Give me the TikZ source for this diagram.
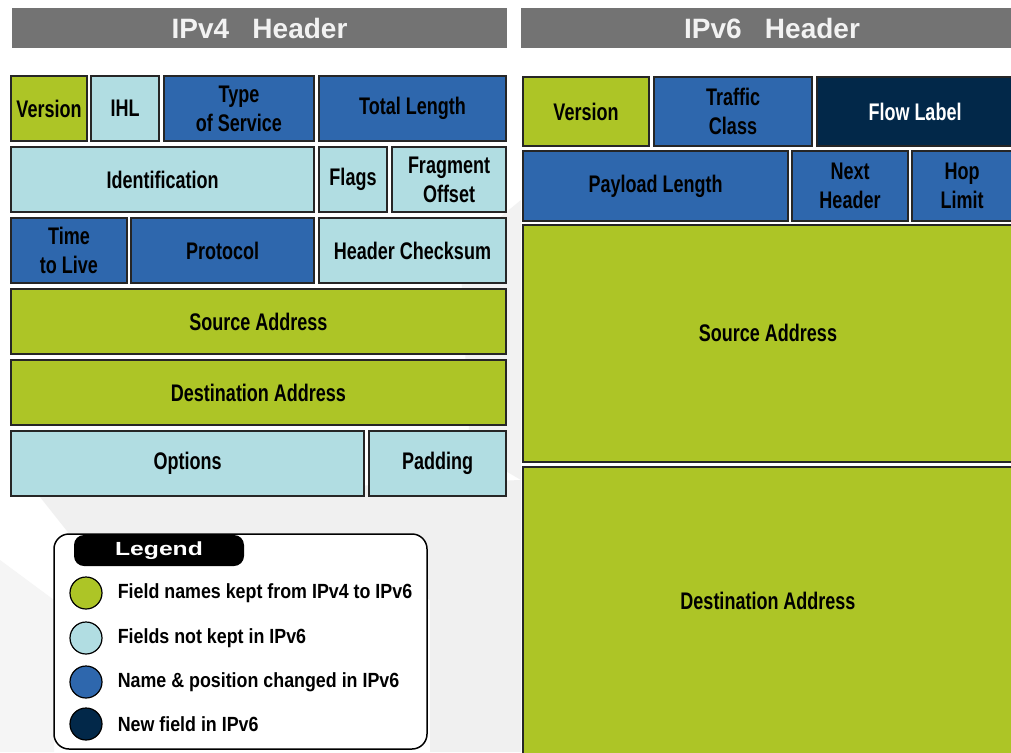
\documentclass[tikz,border=0pt]{standalone}
\usepackage{fontspec}
\setmainfont{Liberation Sans}
\newfontfamily\narrowfont{Liberation Sans}[FakeStretch=0.75]
\newfontfamily\entryfont{Liberation Sans}[FakeStretch=0.87]
\newfontfamily\widefont{Liberation Sans}[FakeStretch=1.3]
\usetikzlibrary{positioning}
\definecolor{keptgreen}{HTML}{ADC526}
\definecolor{droppedblue}{HTML}{B1DDE2}
\definecolor{movedblue}{HTML}{2E67AD}
\definecolor{newnavy}{HTML}{022849}
\definecolor{bargray}{HTML}{737373}
\begin{document}
\begin{tikzpicture}[x=1pt, y=-1pt,
    field/.style={draw=black!85, line width=1.3pt, inner sep=0pt, outer sep=0pt, align=center,
      font=\narrowfont\bfseries\fontsize{24}{29}\selectfont},
    fieldlabel/.style={inner sep=0pt, font=\narrowfont\bfseries\fontsize{24}{29}\selectfont},
    kept/.style={field, fill=keptgreen},
    dropped/.style={field, fill=droppedblue},
    moved/.style={field, fill=movedblue},
    newfield/.style={field, fill=newnavy, text=white},
    headbar/.style={fill=bargray, text=black!5, inner sep=0pt, font=\bfseries\fontsize{28}{30}\selectfont},
    dot/.style={circle, draw=black, line width=1.2pt, minimum size=32pt, inner sep=0pt},
    entry/.style={inner sep=0pt, font=\entryfont\bfseries\fontsize{20.5}{24}\selectfont}]
  \useasboundingbox[fill=white] (0,0) rectangle (1011,752);
  % faint background shapes
  \fill[gray!12] (40,497) -- (521,480) -- (521,752) -- (430,752) -- (430,600) -- (330,540) -- (200,620) -- (90,560) -- cycle;
  \fill[gray!10] (460,250) -- (521,200) -- (521,480) -- (470,450) -- cycle;
  \fill[gray!8] (0,560) -- (54,600) -- (54,752) -- (0,752) -- cycle;

  % titles
  \node[headbar, minimum width=495pt, minimum height=40pt] (v4head) at (259.5,28) {IPv4\ \ \ Header};
  \node[headbar, minimum width=502pt, minimum height=40pt] (v6head) at (772,28) {IPv6\ \ \ Header};

  % IPv4 header
  \node[kept, minimum width=76pt, minimum height=65pt] (v4ver) at (49,108.5) {Version};
  \node[dropped, minimum width=68pt, minimum height=65pt] (v4ihl) at (125,108.5) {IHL};
  \node[moved, minimum width=150pt, minimum height=65pt] (v4tos) at (239,108.5) {Type\\of Service};
  \node[moved, minimum width=187pt, minimum height=65pt] (v4len) at (412.5,108.5) {Total Length};
  \node[dropped, minimum width=303pt, minimum height=65pt] (v4id) at (162.5,179.5) {Identification};
  \node[dropped, minimum width=68pt, minimum height=65pt] (v4flags) at (353,179.5) {Flags};
  \node[dropped, minimum width=114pt, minimum height=65pt] (v4frag) at (449,179.5) {Fragment\\Offset};
  \node[moved, minimum width=116pt, minimum height=65pt] (v4ttl) at (69,250.5) {Time\\to Live};
  \node[moved, minimum width=183pt, minimum height=65pt] (v4proto) at (222.5,250.5) {Protocol};
  \node[dropped, minimum width=187pt, minimum height=65pt] (v4csum) at (412.5,250.5) {Header Checksum};
  \node[kept, minimum width=495pt, minimum height=65pt] (v4src) at (258.5,321.5) {Source Address};
  \node[kept, minimum width=495pt, minimum height=65pt] (v4dst) at (258.5,392.5) {Destination Address};
  \node[dropped, minimum width=353pt, minimum height=65pt] (v4opt) at (187.5,463.5) {Options};
  \node[dropped, minimum width=137pt, minimum height=65pt] (v4pad) at (437.5,463.5) {Padding};

  % IPv6 header
  \node[kept, minimum width=126pt, minimum height=69pt] (v6ver) at (586,111.5) {Version};
  \node[moved, minimum width=158pt, minimum height=69pt] (v6class) at (733,111.5) {Traffic\\Class};
  \node[newfield, minimum width=196pt, minimum height=69pt] (v6flow) at (915,111.5) {Flow Label};
  \node[moved, minimum width=265pt, minimum height=70pt] (v6plen) at (655.5,186) {Payload Length};
  \node[moved, minimum width=116pt, minimum height=70pt] (v6next) at (850,186) {Next\\Header};
  \node[moved, minimum width=100pt, minimum height=70pt] (v6hop) at (962,186) {Hop\\Limit};
  \node[kept, minimum width=490pt, minimum height=237pt,
    label={[fieldlabel, yshift=10.5pt]center:Source Address}] (v6src) at (768,343.5) {};
  \node[kept, minimum width=490pt, minimum height=293pt,
    label={[fieldlabel, yshift=12.5pt]center:Destination Address}] (v6dst) at (768,613.5) {};

  % legend
  \node[draw, fill=white, line width=1.5pt, rounded corners=15pt, minimum width=373pt, minimum height=215pt] (legendbox) at (240.5,641.5) {};
  \node[fill=black, text=white, rounded corners=10pt, minimum width=170pt, minimum height=31pt, inner sep=0pt,
    font=\widefont\bfseries\fontsize{19}{20}\selectfont] (legendtab) at (159,550.5) {Legend};
  \node[dot, fill=keptgreen] (keptdot) at (86,593) {};
  \node[dot, fill=droppedblue] (droppeddot) at (86,638) {};
  \node[dot, fill=movedblue] (moveddot) at (86,682) {};
  \node[dot, fill=newnavy] (newdot) at (86,724) {};
  \node[entry, right=15pt of keptdot] (kepttext) {Field names kept from IPv4 to IPv6};
  \node[entry, right=15pt of droppeddot] (droppedtext) {Fields not kept in IPv6};
  \node[entry, right=15pt of moveddot] (movedtext) {Name \& position changed in IPv6};
  \node[entry, right=15pt of newdot] (newtext) {New field in IPv6};
\end{tikzpicture}
\end{document}
